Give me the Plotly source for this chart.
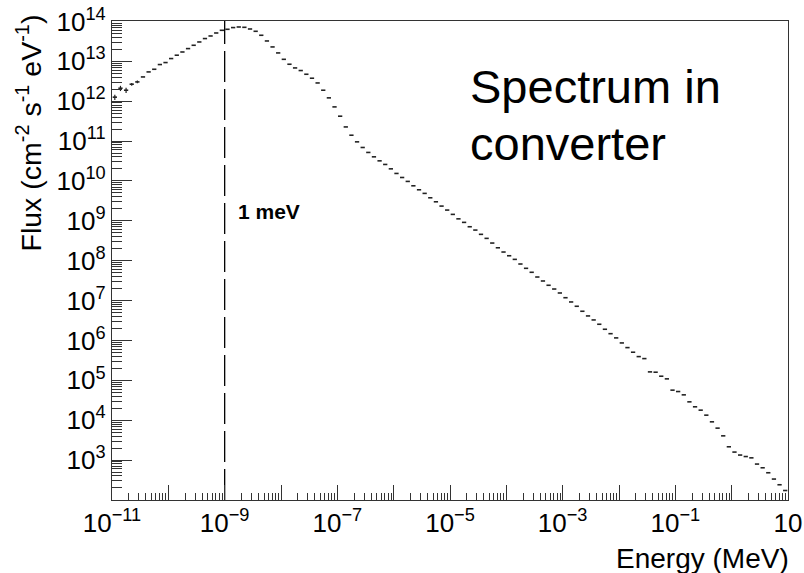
import numpy as np
import plotly.graph_objects as go

# ---------------- data ----------------
energy_exp_min = -11          # histogram lower edge, log10(MeV)
energy_exp_max = 1            # histogram upper edge, log10(MeV)
n_bins = 120                  # 10 bins per decade

flux = [
    1.26e12, 2.11e12, 1.88e12, 2.66e12, 3.04e12, 4.05e12, 5.41e12, 6.31e12, 8.28e12, 9.29e12,
    1.17e13, 1.42e13, 1.71e13, 2.08e13, 2.52e13, 3.05e13, 3.71e13, 4.31e13, 5.12e13, 5.98e13,
    6.34e13, 7.00e13, 7.24e13, 7.11e13, 6.45e13, 5.65e13, 4.49e13, 3.23e13, 2.29e13, 1.62e13,
    1.12e13, 8.43e12, 6.81e12, 5.86e12, 4.73e12, 3.76e12, 2.86e12, 1.88e12, 1.21e12, 7.18e11,
    4.20e11, 2.26e11, 1.40e11, 9.55e10, 6.90e10, 5.18e10, 4.02e10, 3.19e10, 2.59e10, 2.01e10,
    1.54e10, 1.22e10, 9.73e9, 7.55e9, 6.00e9, 4.87e9, 3.78e9, 3.00e9, 2.34e9, 1.86e9,
    1.45e9, 1.12e9, 9.14e8, 7.10e8, 5.86e8, 4.58e8, 3.63e8, 2.77e8, 2.11e8, 1.65e8,
    1.33e8, 1.08e8, 8.26e7, 6.44e7, 5.12e7, 3.90e7, 3.10e7, 2.42e7, 1.95e7, 1.55e7,
    1.18e7, 9.23e6, 7.20e6, 5.40e6, 4.12e6, 3.27e6, 2.55e6, 1.91e6, 1.48e6, 1.16e6,
    8.67e5, 6.62e5, 5.07e5, 3.94e5, 3.51e5, 1.63e5, 1.60e5, 1.27e5, 1.09e5, 5.68e4,
    5.24e4, 4.33e4, 2.89e4, 2.17e4, 1.79e4, 1.34e4, 9.12e3, 6.34e3, 4.06e3, 2.16e3,
    1.59e3, 1.34e3, 1.23e3, 1.14e3, 7.96e2, 6.43e2, 4.82e2, 3.35e2, 2.41e2, 1.73e2,
]
# relative statistical errors visible on the first (low-statistics) bins
flux_rel_err_first = [0.15, 0.15, 0.15, 0.08, 0.08]

x_tick_vals = [1e-11, 1e-10, 1e-9, 1e-8, 1e-7, 1e-6, 1e-5, 1e-4, 1e-3, 1e-2, 1e-1, 1, 10]
x_tick_text = ["10<sup>\u221211</sup>", "", "10<sup>\u22129</sup>", "", "10<sup>\u22127</sup>", "",
               "10<sup>\u22125</sup>", "", "10<sup>\u22123</sup>", "", "10<sup>\u22121</sup>", "", "10"]
y_tick_vals = [1e3, 1e4, 1e5, 1e6, 1e7, 1e8, 1e9, 1e10, 1e11, 1e12, 1e13, 1e14]
y_tick_text = ["10<sup>3</sup>", "10<sup>4</sup>", "10<sup>5</sup>", "10<sup>6</sup>",
               "10<sup>7</sup>", "10<sup>8</sup>", "10<sup>9</sup>", "10<sup>10</sup>",
               "10<sup>11</sup>", "10<sup>12</sup>", "10<sup>13</sup>", "10<sup>14</sup>"]

marker_energy = 1e-9     # 1 meV in MeV
y_range_log = [2.0, 14.01]

# ---------------- figure ----------------
W, H = 804, 573
L, R, T, B = 112, 16, 21, 73
pw, ph = W - L - R, H - T - B

def px_x(px):
    return (px - L) / pw

def px_y(py):
    return 1 - (py - T) / ph

edges = np.logspace(energy_exp_min, energy_exp_max, n_bins + 1)
gap = 10 ** 0.012
seg_x, seg_y = [], []
for i, v in enumerate(flux):
    seg_x += [edges[i] * gap, edges[i + 1] / gap, None]
    seg_y += [v, v, None]

centers = np.sqrt(edges[:-1] * edges[1:])
n_err = len(flux_rel_err_first)
err_x = list(centers[:n_err])
err_y = flux[:n_err]
err_abs = [f * e for f, e in zip(err_y, flux_rel_err_first)]

fig = go.Figure()
fig.add_trace(go.Scatter(x=seg_x, y=seg_y, mode="lines",
                         line=dict(color="#222222", width=1.6),
                         hoverinfo="skip", showlegend=False))
fig.add_trace(go.Scatter(x=err_x, y=err_y, mode="markers",
                         marker=dict(size=1, color="#222222"),
                         error_y=dict(type="data", array=err_abs, color="#222222",
                                      thickness=1.2, width=0),
                         showlegend=False))
fig.add_trace(go.Scatter(x=[marker_energy, marker_energy],
                         y=[10 ** y_range_log[0], 10 ** y_range_log[1]],
                         mode="lines", line=dict(color="black", width=1.3, dash="31px,7px"),
                         showlegend=False, hoverinfo="skip"))

font_family = "Liberation Sans, Arial, sans-serif"

fig.update_layout(
    width=W, height=H,
    margin=dict(l=L, r=R, t=T, b=B, autoexpand=False),
    paper_bgcolor="white", plot_bgcolor="white",
    font=dict(family=font_family, color="black"),
    showlegend=False,
)
fig.update_xaxes(
    type="log", range=[energy_exp_min, energy_exp_max], automargin=False,
    showgrid=False, zeroline=False,
    showline=True, linecolor="#333333", linewidth=1.3, mirror=True,
    tickmode="array", tickvals=x_tick_vals, ticktext=x_tick_text,
    ticks="inside", ticklen=15, tickwidth=1, tickcolor="#333333",
    tickfont=dict(size=26, family=font_family, color="black"),
    minor=dict(ticks="inside", ticklen=7, tickwidth=1, tickcolor="#333333", dtick="D1", showgrid=False),
)
fig.update_yaxes(
    type="log", range=y_range_log, automargin=False,
    showgrid=False, zeroline=False,
    showline=True, linecolor="#333333", linewidth=1.3, mirror=True,
    tickmode="array", tickvals=y_tick_vals, ticktext=y_tick_text,
    ticks="inside", ticklen=20, tickwidth=1, tickcolor="#333333",
    tickfont=dict(size=26, family=font_family, color="black"),
    minor=dict(ticks="inside", ticklen=10, tickwidth=1, tickcolor="#333333", dtick="D1", showgrid=False),
)

annotations = [
    dict(text="Spectrum in", x=px_x(468), y=px_y(86), xref="paper", yref="paper",
         xanchor="left", yanchor="middle", showarrow=False,
         font=dict(size=47, family=font_family, color="black")),
    dict(text="converter", x=px_x(468), y=px_y(143), xref="paper", yref="paper",
         xanchor="left", yanchor="middle", showarrow=False,
         font=dict(size=47, family=font_family, color="black")),
    dict(text="<b>1 meV</b>", x=px_x(236), y=px_y(212), xref="paper", yref="paper",
         xanchor="left", yanchor="middle", showarrow=False,
         font=dict(size=21, family=font_family, color="black")),
    dict(text="Energy (MeV)", x=px_x(791), y=px_y(558), xref="paper", yref="paper",
         xanchor="right", yanchor="middle", showarrow=False,
         font=dict(size=28, family=font_family, color="black")),
    dict(text="Flux (cm<sup>-2</sup> s<sup>-1</sup> eV<sup>-1</sup>)", textangle=-90,
         x=px_x(30), y=px_y(13), xref="paper", yref="paper",
         xanchor="center", yanchor="top", showarrow=False,
         font=dict(size=28.5, family=font_family, color="black")),
]
fig.update_layout(annotations=annotations)

fig.write_html("out.html")
